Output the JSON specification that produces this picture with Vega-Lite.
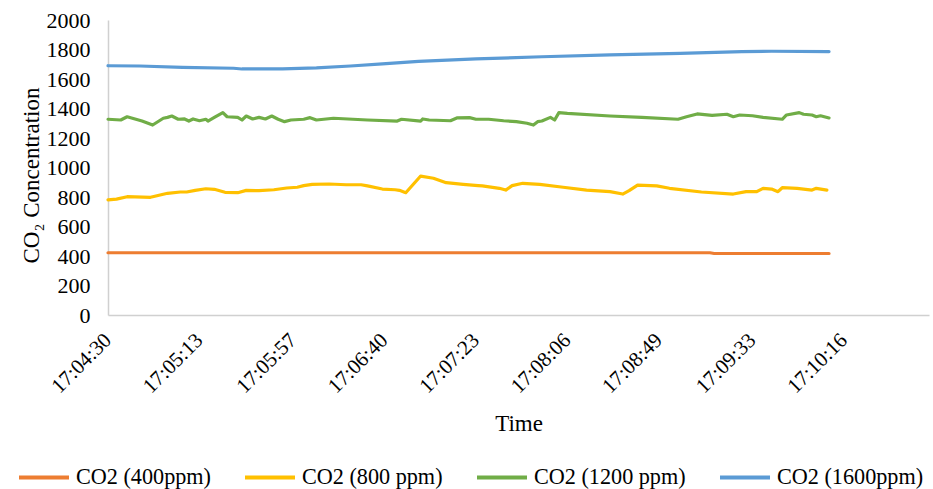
{
  "$schema": "https://vega.github.io/schema/vega-lite/v6.json",
  "autosize": {"type": "none"},
  "width": 821,
  "height": 295,
  "padding": {"left": 108, "top": 20, "right": 4, "bottom": 174},
  "background": "white",
  "config": {
    "font": "Liberation Serif",
    "view": {"stroke": null},
    "axis": {"labelFont": "Liberation Serif", "titleFont": "Liberation Serif"},
    "legend": {"labelFont": "Liberation Serif", "titleFont": "Liberation Serif"}
  },
  "data": {
    "format": {"parse": {"t": "date:'%H:%M:%S'"}},
    "values": [
      {"t": "17:04:30", "series": "CO2 (400ppm)", "v": 422},
      {"t": "17:09:13", "series": "CO2 (400ppm)", "v": 422},
      {"t": "17:09:15", "series": "CO2 (400ppm)", "v": 417},
      {"t": "17:10:09", "series": "CO2 (400ppm)", "v": 417},

      {"t": "17:04:30", "series": "CO2 (800 ppm)", "v": 780},
      {"t": "17:04:34", "series": "CO2 (800 ppm)", "v": 786},
      {"t": "17:04:39", "series": "CO2 (800 ppm)", "v": 802},
      {"t": "17:04:50", "series": "CO2 (800 ppm)", "v": 798},
      {"t": "17:04:54", "series": "CO2 (800 ppm)", "v": 812},
      {"t": "17:04:58", "series": "CO2 (800 ppm)", "v": 825},
      {"t": "17:05:04", "series": "CO2 (800 ppm)", "v": 834},
      {"t": "17:05:07", "series": "CO2 (800 ppm)", "v": 834},
      {"t": "17:05:11", "series": "CO2 (800 ppm)", "v": 845},
      {"t": "17:05:16", "series": "CO2 (800 ppm)", "v": 856},
      {"t": "17:05:20", "series": "CO2 (800 ppm)", "v": 852},
      {"t": "17:05:25", "series": "CO2 (800 ppm)", "v": 832},
      {"t": "17:05:31", "series": "CO2 (800 ppm)", "v": 829},
      {"t": "17:05:35", "series": "CO2 (800 ppm)", "v": 845},
      {"t": "17:05:41", "series": "CO2 (800 ppm)", "v": 843},
      {"t": "17:05:48", "series": "CO2 (800 ppm)", "v": 849},
      {"t": "17:05:54", "series": "CO2 (800 ppm)", "v": 861},
      {"t": "17:05:59", "series": "CO2 (800 ppm)", "v": 866},
      {"t": "17:06:02", "series": "CO2 (800 ppm)", "v": 877},
      {"t": "17:06:06", "series": "CO2 (800 ppm)", "v": 886},
      {"t": "17:06:14", "series": "CO2 (800 ppm)", "v": 888},
      {"t": "17:06:22", "series": "CO2 (800 ppm)", "v": 883},
      {"t": "17:06:29", "series": "CO2 (800 ppm)", "v": 883},
      {"t": "17:06:32", "series": "CO2 (800 ppm)", "v": 875},
      {"t": "17:06:39", "series": "CO2 (800 ppm)", "v": 854},
      {"t": "17:06:45", "series": "CO2 (800 ppm)", "v": 849},
      {"t": "17:06:47", "series": "CO2 (800 ppm)", "v": 845},
      {"t": "17:06:50", "series": "CO2 (800 ppm)", "v": 829},
      {"t": "17:06:57", "series": "CO2 (800 ppm)", "v": 942},
      {"t": "17:07:03", "series": "CO2 (800 ppm)", "v": 927},
      {"t": "17:07:09", "series": "CO2 (800 ppm)", "v": 897},
      {"t": "17:07:17", "series": "CO2 (800 ppm)", "v": 886},
      {"t": "17:07:24", "series": "CO2 (800 ppm)", "v": 877},
      {"t": "17:07:26", "series": "CO2 (800 ppm)", "v": 875},
      {"t": "17:07:34", "series": "CO2 (800 ppm)", "v": 859},
      {"t": "17:07:37", "series": "CO2 (800 ppm)", "v": 847},
      {"t": "17:07:40", "series": "CO2 (800 ppm)", "v": 877},
      {"t": "17:07:45", "series": "CO2 (800 ppm)", "v": 893},
      {"t": "17:07:53", "series": "CO2 (800 ppm)", "v": 886},
      {"t": "17:08:04", "series": "CO2 (800 ppm)", "v": 866},
      {"t": "17:08:15", "series": "CO2 (800 ppm)", "v": 847},
      {"t": "17:08:26", "series": "CO2 (800 ppm)", "v": 836},
      {"t": "17:08:32", "series": "CO2 (800 ppm)", "v": 820},
      {"t": "17:08:35", "series": "CO2 (800 ppm)", "v": 843},
      {"t": "17:08:39", "series": "CO2 (800 ppm)", "v": 881},
      {"t": "17:08:48", "series": "CO2 (800 ppm)", "v": 875},
      {"t": "17:08:54", "series": "CO2 (800 ppm)", "v": 859},
      {"t": "17:09:09", "series": "CO2 (800 ppm)", "v": 834},
      {"t": "17:09:24", "series": "CO2 (800 ppm)", "v": 820},
      {"t": "17:09:30", "series": "CO2 (800 ppm)", "v": 836},
      {"t": "17:09:35", "series": "CO2 (800 ppm)", "v": 836},
      {"t": "17:09:38", "series": "CO2 (800 ppm)", "v": 859},
      {"t": "17:09:42", "series": "CO2 (800 ppm)", "v": 854},
      {"t": "17:09:45", "series": "CO2 (800 ppm)", "v": 836},
      {"t": "17:09:47", "series": "CO2 (800 ppm)", "v": 863},
      {"t": "17:09:54", "series": "CO2 (800 ppm)", "v": 859},
      {"t": "17:09:58", "series": "CO2 (800 ppm)", "v": 852},
      {"t": "17:10:01", "series": "CO2 (800 ppm)", "v": 847},
      {"t": "17:10:03", "series": "CO2 (800 ppm)", "v": 859},
      {"t": "17:10:08", "series": "CO2 (800 ppm)", "v": 847},

      {"t": "17:04:30", "series": "CO2 (1200 ppm)", "v": 1327},
      {"t": "17:04:36", "series": "CO2 (1200 ppm)", "v": 1322},
      {"t": "17:04:39", "series": "CO2 (1200 ppm)", "v": 1344},
      {"t": "17:04:46", "series": "CO2 (1200 ppm)", "v": 1315},
      {"t": "17:04:51", "series": "CO2 (1200 ppm)", "v": 1288},
      {"t": "17:04:56", "series": "CO2 (1200 ppm)", "v": 1334},
      {"t": "17:04:58", "series": "CO2 (1200 ppm)", "v": 1340},
      {"t": "17:05:00", "series": "CO2 (1200 ppm)", "v": 1349},
      {"t": "17:05:03", "series": "CO2 (1200 ppm)", "v": 1327},
      {"t": "17:05:06", "series": "CO2 (1200 ppm)", "v": 1329},
      {"t": "17:05:08", "series": "CO2 (1200 ppm)", "v": 1315},
      {"t": "17:05:10", "series": "CO2 (1200 ppm)", "v": 1329},
      {"t": "17:05:13", "series": "CO2 (1200 ppm)", "v": 1317},
      {"t": "17:05:16", "series": "CO2 (1200 ppm)", "v": 1327},
      {"t": "17:05:17", "series": "CO2 (1200 ppm)", "v": 1315},
      {"t": "17:05:20", "series": "CO2 (1200 ppm)", "v": 1340},
      {"t": "17:05:24", "series": "CO2 (1200 ppm)", "v": 1372},
      {"t": "17:05:26", "series": "CO2 (1200 ppm)", "v": 1344},
      {"t": "17:05:31", "series": "CO2 (1200 ppm)", "v": 1340},
      {"t": "17:05:33", "series": "CO2 (1200 ppm)", "v": 1322},
      {"t": "17:05:35", "series": "CO2 (1200 ppm)", "v": 1349},
      {"t": "17:05:38", "series": "CO2 (1200 ppm)", "v": 1329},
      {"t": "17:05:41", "series": "CO2 (1200 ppm)", "v": 1340},
      {"t": "17:05:44", "series": "CO2 (1200 ppm)", "v": 1329},
      {"t": "17:05:47", "series": "CO2 (1200 ppm)", "v": 1349},
      {"t": "17:05:50", "series": "CO2 (1200 ppm)", "v": 1327},
      {"t": "17:05:53", "series": "CO2 (1200 ppm)", "v": 1311},
      {"t": "17:05:56", "series": "CO2 (1200 ppm)", "v": 1322},
      {"t": "17:06:02", "series": "CO2 (1200 ppm)", "v": 1327},
      {"t": "17:06:05", "series": "CO2 (1200 ppm)", "v": 1338},
      {"t": "17:06:08", "series": "CO2 (1200 ppm)", "v": 1322},
      {"t": "17:06:16", "series": "CO2 (1200 ppm)", "v": 1334},
      {"t": "17:06:32", "series": "CO2 (1200 ppm)", "v": 1322},
      {"t": "17:06:46", "series": "CO2 (1200 ppm)", "v": 1315},
      {"t": "17:06:48", "series": "CO2 (1200 ppm)", "v": 1327},
      {"t": "17:06:57", "series": "CO2 (1200 ppm)", "v": 1315},
      {"t": "17:06:58", "series": "CO2 (1200 ppm)", "v": 1329},
      {"t": "17:07:01", "series": "CO2 (1200 ppm)", "v": 1322},
      {"t": "17:07:11", "series": "CO2 (1200 ppm)", "v": 1317},
      {"t": "17:07:14", "series": "CO2 (1200 ppm)", "v": 1336},
      {"t": "17:07:20", "series": "CO2 (1200 ppm)", "v": 1338},
      {"t": "17:07:23", "series": "CO2 (1200 ppm)", "v": 1327},
      {"t": "17:07:29", "series": "CO2 (1200 ppm)", "v": 1327},
      {"t": "17:07:36", "series": "CO2 (1200 ppm)", "v": 1317},
      {"t": "17:07:42", "series": "CO2 (1200 ppm)", "v": 1311},
      {"t": "17:07:47", "series": "CO2 (1200 ppm)", "v": 1300},
      {"t": "17:07:50", "series": "CO2 (1200 ppm)", "v": 1288},
      {"t": "17:07:52", "series": "CO2 (1200 ppm)", "v": 1311},
      {"t": "17:07:54", "series": "CO2 (1200 ppm)", "v": 1315},
      {"t": "17:07:58", "series": "CO2 (1200 ppm)", "v": 1340},
      {"t": "17:08:00", "series": "CO2 (1200 ppm)", "v": 1322},
      {"t": "17:08:02", "series": "CO2 (1200 ppm)", "v": 1372},
      {"t": "17:08:06", "series": "CO2 (1200 ppm)", "v": 1367},
      {"t": "17:08:26", "series": "CO2 (1200 ppm)", "v": 1349},
      {"t": "17:08:41", "series": "CO2 (1200 ppm)", "v": 1340},
      {"t": "17:08:58", "series": "CO2 (1200 ppm)", "v": 1327},
      {"t": "17:09:02", "series": "CO2 (1200 ppm)", "v": 1344},
      {"t": "17:09:07", "series": "CO2 (1200 ppm)", "v": 1363},
      {"t": "17:09:14", "series": "CO2 (1200 ppm)", "v": 1354},
      {"t": "17:09:21", "series": "CO2 (1200 ppm)", "v": 1361},
      {"t": "17:09:24", "series": "CO2 (1200 ppm)", "v": 1344},
      {"t": "17:09:27", "series": "CO2 (1200 ppm)", "v": 1356},
      {"t": "17:09:33", "series": "CO2 (1200 ppm)", "v": 1351},
      {"t": "17:09:38", "series": "CO2 (1200 ppm)", "v": 1340},
      {"t": "17:09:47", "series": "CO2 (1200 ppm)", "v": 1327},
      {"t": "17:09:49", "series": "CO2 (1200 ppm)", "v": 1356},
      {"t": "17:09:55", "series": "CO2 (1200 ppm)", "v": 1372},
      {"t": "17:09:57", "series": "CO2 (1200 ppm)", "v": 1361},
      {"t": "17:10:01", "series": "CO2 (1200 ppm)", "v": 1356},
      {"t": "17:10:03", "series": "CO2 (1200 ppm)", "v": 1344},
      {"t": "17:10:05", "series": "CO2 (1200 ppm)", "v": 1351},
      {"t": "17:10:09", "series": "CO2 (1200 ppm)", "v": 1336},

      {"t": "17:04:30", "series": "CO2 (1600ppm)", "v": 1690},
      {"t": "17:04:45", "series": "CO2 (1600ppm)", "v": 1688},
      {"t": "17:05:05", "series": "CO2 (1600ppm)", "v": 1679},
      {"t": "17:05:29", "series": "CO2 (1600ppm)", "v": 1673},
      {"t": "17:05:33", "series": "CO2 (1600ppm)", "v": 1668},
      {"t": "17:05:52", "series": "CO2 (1600ppm)", "v": 1668},
      {"t": "17:06:08", "series": "CO2 (1600ppm)", "v": 1675},
      {"t": "17:06:24", "series": "CO2 (1600ppm)", "v": 1688},
      {"t": "17:06:39", "series": "CO2 (1600ppm)", "v": 1702},
      {"t": "17:06:56", "series": "CO2 (1600ppm)", "v": 1720},
      {"t": "17:07:23", "series": "CO2 (1600ppm)", "v": 1736},
      {"t": "17:07:54", "series": "CO2 (1600ppm)", "v": 1751},
      {"t": "17:08:26", "series": "CO2 (1600ppm)", "v": 1763},
      {"t": "17:08:59", "series": "CO2 (1600ppm)", "v": 1774},
      {"t": "17:09:28", "series": "CO2 (1600ppm)", "v": 1785},
      {"t": "17:09:42", "series": "CO2 (1600ppm)", "v": 1788},
      {"t": "17:10:09", "series": "CO2 (1600ppm)", "v": 1786}
    ]
  },
  "mark": {"type": "line", "strokeWidth": 3.2, "strokeCap": "round", "strokeJoin": "round"},
  "encoding": {
    "x": {
      "field": "t",
      "type": "temporal",
      "scale": {
        "domain": [
          {"year": 1900, "month": 1, "date": 1, "hours": 17, "minutes": 4, "seconds": 30},
          {"year": 1900, "month": 1, "date": 1, "hours": 17, "minutes": 10, "seconds": 56}
        ],
        "nice": false
      },
      "axis": {
        "title": "Time",
        "titleFont": "Liberation Serif",
        "titleFontSize": 23,
        "titleFontWeight": "normal",
        "titleColor": "#000000",
        "titlePadding": 16,
        "format": "%H:%M:%S",
        "values": [
          {"year": 1900, "month": 1, "date": 1, "hours": 17, "minutes": 4, "seconds": 30},
          {"year": 1900, "month": 1, "date": 1, "hours": 17, "minutes": 5, "seconds": 13},
          {"year": 1900, "month": 1, "date": 1, "hours": 17, "minutes": 5, "seconds": 57},
          {"year": 1900, "month": 1, "date": 1, "hours": 17, "minutes": 6, "seconds": 40},
          {"year": 1900, "month": 1, "date": 1, "hours": 17, "minutes": 7, "seconds": 23},
          {"year": 1900, "month": 1, "date": 1, "hours": 17, "minutes": 8, "seconds": 6},
          {"year": 1900, "month": 1, "date": 1, "hours": 17, "minutes": 8, "seconds": 49},
          {"year": 1900, "month": 1, "date": 1, "hours": 17, "minutes": 9, "seconds": 33},
          {"year": 1900, "month": 1, "date": 1, "hours": 17, "minutes": 10, "seconds": 16}
        ],
        "labelAngle": -45,
        "labelFont": "Liberation Serif",
        "labelFontSize": 21,
        "labelColor": "#000000",
        "labelPadding": 14,
        "labelOffset": -8,
        "labelOverlap": false,
        "labelFlush": false,
        "ticks": false,
        "tickSize": 0,
        "grid": false,
        "domainColor": "#d0d0d0",
        "domainWidth": 1.5
      }
    },
    "y": {
      "field": "v",
      "type": "quantitative",
      "scale": {"domain": [0, 2000], "nice": false},
      "axis": {
        "title": "CO₂ Concentration",
        "titleFont": "Liberation Serif",
        "titleFontSize": 23,
        "titleFontWeight": "normal",
        "titleColor": "#000000",
        "titlePadding": 3,
        "titleY": 155,
        "values": [0, 200, 400, 600, 800, 1000, 1200, 1400, 1600, 1800, 2000],
        "format": "d",
        "labelFont": "Liberation Serif",
        "labelFontSize": 22,
        "labelColor": "#000000",
        "labelPadding": 18,
        "ticks": false,
        "tickSize": 0,
        "grid": false,
        "domainColor": "#d0d0d0",
        "domainWidth": 1.5
      }
    },
    "color": {
      "field": "series",
      "type": "nominal",
      "scale": {
        "domain": ["CO2 (400ppm)", "CO2 (800 ppm)", "CO2 (1200 ppm)", "CO2 (1600ppm)"],
        "range": ["#ED7D31", "#FFC000", "#70AD47", "#5B9BD5"]
      },
      "legend": {
        "title": null,
        "orient": "none",
        "direction": "horizontal",
        "legendX": -91,
        "legendY": 430,
        "symbolType": "stroke",
        "symbolSize": 2500,
        "symbolStrokeWidth": 4,
        "labelFont": "Liberation Serif",
        "labelFontSize": 22.2,
        "labelColor": "#000000",
        "labelOffset": 5,
        "columnPadding": 26,
        "labelLimit": 300
      }
    }
  }
}
